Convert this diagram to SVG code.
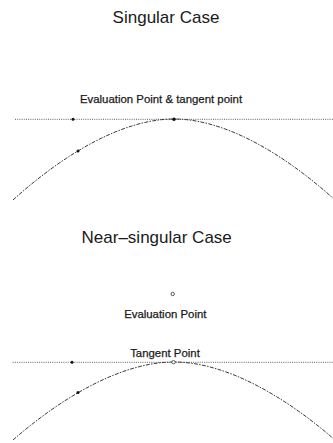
<svg xmlns="http://www.w3.org/2000/svg" width="333" height="443" viewBox="0 0 333 443">
<style>
.title{font-family:"Liberation Sans",Arial,sans-serif;font-size:17px;fill:#1a1a1a;text-anchor:middle}
.lbl{font-family:"Liberation Sans",Arial,sans-serif;font-size:11.4px;fill:#1a1a1a;stroke:#1a1a1a;stroke-width:0.25;text-anchor:middle}
.tan{fill:none;stroke:#333;stroke-width:0.8;stroke-dasharray:1 1.2}
.curve{fill:none;stroke:#3a3a3a;stroke-width:1;stroke-dasharray:4 1.3 1.5 1.3}
.dot{fill:#111}
.open{fill:#fff;stroke:#333;stroke-width:0.8}
</style>
<rect width="333" height="443" fill="#fff"/>
<g id="singular">
  <text class="title" x="166" y="23">Singular Case</text>
  <text class="lbl" x="161" y="102.5">Evaluation Point &amp; tangent point</text>
  <line class="tan" x1="15" y1="119.3" x2="333" y2="119.3"/>
  <path class="curve" d="M13,200 C64,153.8 123,119 174,119 C225,119 284,153.8 335,200"/>
  <circle class="dot" cx="73" cy="119.3" r="1.5"/>
  <circle class="dot" cx="174" cy="119.2" r="1.8"/>
  <circle class="dot" cx="78" cy="151" r="1.5"/>
</g>
<g id="near-singular">
  <text class="title" x="156.7" y="242.7">Near–singular Case</text>
  <circle class="open" cx="172.7" cy="294" r="1.7"/>
  <text class="lbl" x="165.3" y="317.7">Evaluation Point</text>
  <text class="lbl" x="165" y="356.7">Tangent Point</text>
  <line class="tan" x1="12.7" y1="362.3" x2="333" y2="362.3"/>
  <path class="curve" d="M13,440 C64,395.5 123,362 174,362 C225,362 284,395.5 335,440"/>
  <circle class="dot" cx="72" cy="362.3" r="1.5"/>
  <circle class="open" cx="173.5" cy="362.2" r="1.7"/>
  <circle class="dot" cx="78" cy="392.5" r="1.5"/>
</g>
</svg>
